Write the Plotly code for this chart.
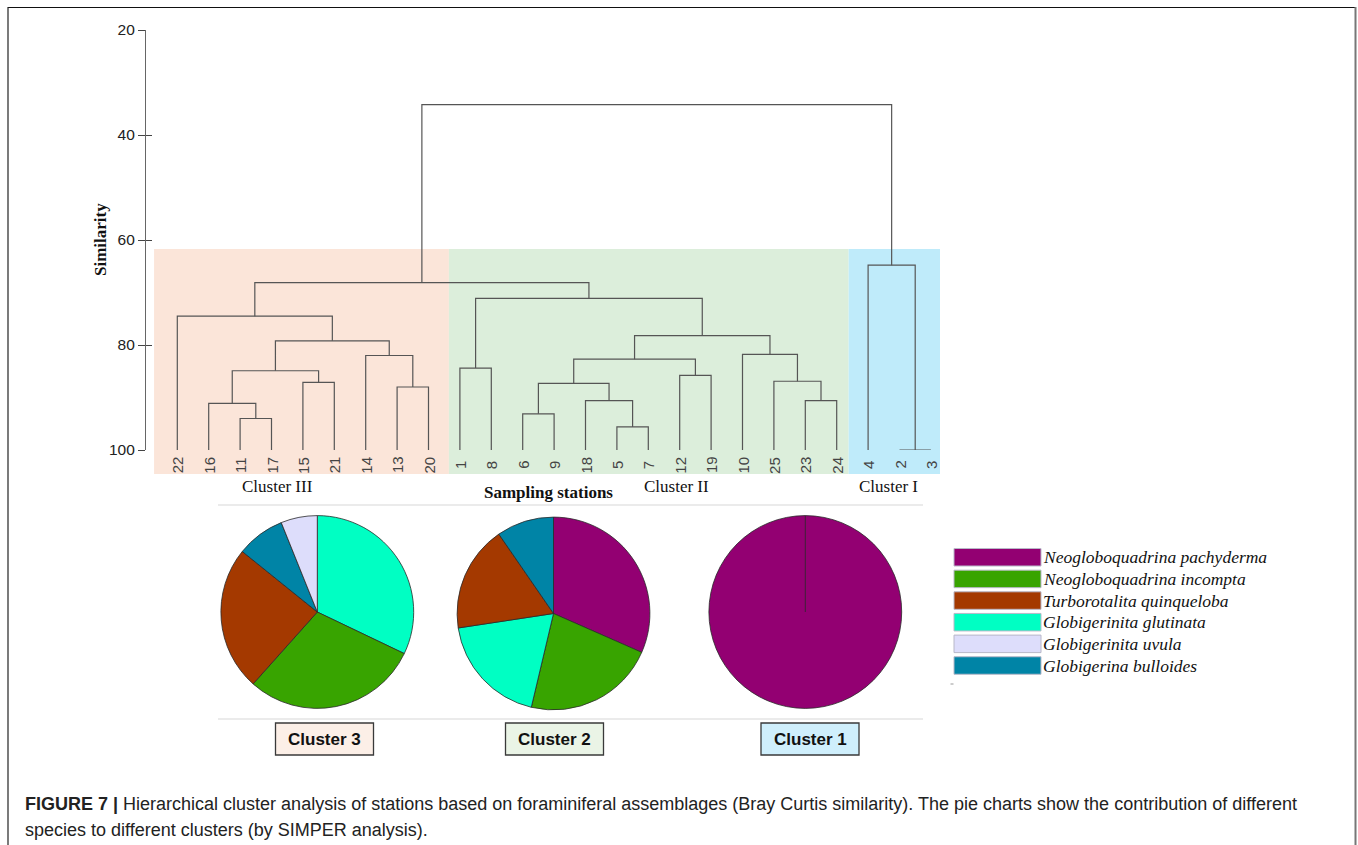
import plotly.graph_objects as go

W, H = 1358, 845

# ---------------- dendrogram data ----------------
leaf_order = ["22", "16", "11", "17", "15", "21", "14", "13", "20",
              "1", "8", "6", "9", "18", "5", "7", "12", "19", "10", "25", "23", "24",
              "4", "2", "3"]

# each merge k creates node "n{k+1}" joining the two members at that similarity
merge_left = ["11", "16", "15", "n2", "13", "14", "n4", "22",
              "1", "6", "5", "18", "n10", "12", "n13", "23", "25", "10", "n15", "n9",
              "n8", "2", "4", "n21"]
merge_right = ["17", "n1", "21", "n3", "20", "n5", "n6", "n7",
               "8", "9", "7", "n11", "n12", "19", "n14", "24", "n16", "n17", "n18", "n19",
               "n20", "3", "n22", "n23"]
merge_similarity = [94.0, 91.1, 87.1, 84.9, 88.0, 82.0, 79.2, 74.5,
                    84.4, 93.1, 95.6, 90.6, 87.3, 85.8, 82.7, 90.6, 86.9, 81.8, 78.2, 71.1,
                    68.1, 100.0, 64.8, 34.2]

similarity_ticks = [20, 40, 60, 80, 100]

# cluster bands in leaf-index units
band_edges = [(-0.74, 8.65), (8.65, 21.38), (21.38, 24.29)]
band_colors = ["#FBE5D9", "#DCEEDB", "#BFEBFA"]
band_names = ["Cluster III", "Cluster II", "Cluster I"]

# ---------------- SIMPER contributions ----------------
species = ["Neogloboquadrina pachyderma", "Neogloboquadrina incompta",
           "Turborotalita quinqueloba", "Globigerinita glutinata",
           "Globigerinita uvula", "Globigerina bulloides"]
species_colors = ["#930072", "#38A400", "#A43900", "#00FFC3", "#DDDDFB", "#0084A6"]
color_of = dict(zip(species, species_colors))

cluster3_species = ["Globigerinita glutinata", "Neogloboquadrina incompta",
                    "Turborotalita quinqueloba", "Globigerina bulloides", "Globigerinita uvula"]
cluster3_share = [32.1, 29.5, 24.2, 8.1, 6.1]

cluster2_species = ["Neogloboquadrina pachyderma", "Neogloboquadrina incompta",
                    "Globigerinita glutinata", "Turborotalita quinqueloba", "Globigerina bulloides"]
cluster2_share = [31.6, 22.1, 18.9, 17.8, 9.6]

cluster1_species = ["Neogloboquadrina pachyderma"]
cluster1_share = [100.0]

pie_titles = ["Cluster 3", "Cluster 2", "Cluster 1"]
pie_title_fills = ["#FCEFE7", "#EAF4E6", "#CFEFFC"]

caption_line1 = ("<b>FIGURE 7 |</b> Hierarchical cluster analysis of stations based on foraminiferal "
                 "assemblages (Bray Curtis similarity). The pie charts show the contribution of different")
caption_line2 = "species to different clusters (by SIMPER analysis)."

SANS = "Liberation Sans, Arial"
SERIF = "Liberation Serif, Times New Roman"


# ---------------- helpers ----------------
def px(x):
    return x / W


def py(y):
    return 1 - y / H


def label(x, y, text, font, xref="paper", **kw):
    d = dict(x=x, y=y, xref=xref, yref="paper", text=text, showarrow=False,
             xanchor="center", yanchor="middle", font=font)
    d.update(kw)
    return d


# layout of the dendrogram panel (pixels)
LEAF0, STEP = 177.3, 31.4
X_RANGE = [-1.0, 24.5]
Y_TOP, Y_BOT = 30, 450
x_dom = [px(LEAF0 + X_RANGE[0] * STEP), px(LEAF0 + X_RANGE[1] * STEP)]
y_dom = [py(Y_BOT), py(Y_TOP)]

# ---------------- build dendrogram segments ----------------
pos = {name: i for i, name in enumerate(leaf_order)}
height = {name: 100.0 for name in leaf_order}
seg_x, seg_y = [], []
for k, (a, b, s) in enumerate(zip(merge_left, merge_right, merge_similarity)):
    xa, xb = pos[a], pos[b]
    seg_x += [xa, xa, xb, xb, None]
    seg_y += [height[a], s, s, height[b], None]
    node = f"n{k + 1}"
    pos[node] = (xa + xb) / 2
    height[node] = s

fig = go.Figure()

fig.add_trace(go.Scatter(
    x=seg_x, y=seg_y, mode="lines",
    line=dict(color="#555555", width=1.2),
    cliponaxis=False, hoverinfo="skip", showlegend=False,
))
# carrier for the inner half of the crossing ticks
fig.add_trace(go.Scatter(x=[None], y=[None], yaxis="y2", showlegend=False, hoverinfo="skip"))

# ---------------- pies ----------------
pie_specs = [
    (cluster3_species, cluster3_share, 317.3, 612.0),
    (cluster2_species, cluster2_share, 553.5, 613.5),
    (cluster1_species, cluster1_share, 805.3, 612.0),
]
R = 96.4
for labels, vals, cx, cy in pie_specs:
    fig.add_trace(go.Pie(
        labels=labels, values=vals,
        marker=dict(colors=[color_of[s] for s in labels], line=dict(color="#2a2a2a", width=0.8)),
        sort=False, direction="clockwise", rotation=0,
        textinfo="none", hoverinfo="label+value", showlegend=False,
        domain=dict(x=[px(cx - R), px(cx + R)], y=[py(cy + R), py(cy - R)]),
    ))

shapes = []
# figure frame
shapes.append(dict(type="line", xref="paper", yref="paper", x0=px(8), x1=px(1355), y0=py(7.5), y1=py(7.5),
                   line=dict(color="#111", width=1.2)))
shapes.append(dict(type="line", xref="paper", yref="paper", x0=px(8), x1=px(8), y0=py(7), y1=0,
                   line=dict(color="#222", width=1.2)))
shapes.append(dict(type="line", xref="paper", yref="paper", x0=px(1355.5), x1=px(1355.5), y0=py(7), y1=0,
                   line=dict(color="#777", width=2)))

# cluster bands behind the dendrogram
for (e0, e1), col in zip(band_edges, band_colors):
    shapes.append(dict(type="rect", xref="x", yref="paper", x0=e0, x1=e1, y0=py(474), y1=py(249),
                       fillcolor=col, line=dict(width=0), layer="below"))

# separators around the pie row
for yy in (505, 719):
    shapes.append(dict(type="line", xref="paper", yref="paper", x0=px(218), x1=px(923), y0=py(yy), y1=py(yy),
                       line=dict(color="#EBEBEB", width=2)))

# radial edge of the single full slice
cx1, cy1 = pie_specs[2][2], pie_specs[2][3]
shapes.append(dict(type="line", xref="paper", yref="paper", x0=px(cx1), x1=px(cx1), y0=py(cy1), y1=py(cy1 - R),
                   line=dict(color="#2a2a2a", width=0.8)))

annotations = []

# cluster title boxes under the pies
box_centers = [324.5, 554.5, 810.0]
for bx, title, fill in zip(box_centers, pie_titles, pie_title_fills):
    shapes.append(dict(type="rect", xref="paper", yref="paper", x0=px(bx - 49), x1=px(bx + 49),
                       y0=py(755), y1=py(723), fillcolor=fill, line=dict(color="#3a3a3a", width=1.3)))
    annotations.append(label(px(bx), py(739.5), f"<b>{title}</b>", dict(family=SANS, size=17, color="#111")))

# species key
key_x0, key_x1 = 954, 1041
key_top, key_h, key_step = 548.5, 17.5, 21.65
for i, (name, col) in enumerate(zip(species, species_colors)):
    t = key_top + i * key_step
    shapes.append(dict(type="rect", xref="paper", yref="paper", x0=px(key_x0), x1=px(key_x1),
                       y0=py(t + key_h), y1=py(t), fillcolor=col, line=dict(color="#B8B8C8", width=1)))
    annotations.append(label(px(key_x1), py(t + key_h / 2), f"<i>{name}</i>",
                             dict(family=SERIF, size=17.5, color="#111"), xanchor="left"))
shapes.append(dict(type="line", xref="paper", yref="paper", x0=px(950.5), x1=px(953.5), y0=py(684), y1=py(684),
                   line=dict(color="#999", width=1)))

# station labels
for name in leaf_order:
    annotations.append(label(pos[name], py(465), name, dict(family=SANS, size=15, color="#444"),
                             xref="x", textangle=-90))

# cluster names under the bands
for txt, xx in zip(band_names, (277.5, 676, 888)):
    annotations.append(label(px(xx), py(486), txt, dict(family=SERIF, size=17, color="#111")))
annotations.append(label(px(548), py(492), "<b>Sampling stations</b>", dict(family=SERIF, size=17, color="#111")))
annotations.append(label(px(100), py(240), "<b>Similarity</b>", dict(family=SERIF, size=17, color="#111"),
                         textangle=-90))

# caption
annotations.append(label(px(23), py(804), caption_line1, dict(family=SANS, size=18, color="#222"), xanchor="left"))
annotations.append(label(px(23), py(830), caption_line2, dict(family=SANS, size=18, color="#222"), xanchor="left"))

fig.update_layout(
    width=W, height=H,
    margin=dict(l=0, r=0, t=0, b=0, pad=0, autoexpand=False),
    paper_bgcolor="white", plot_bgcolor="rgba(0,0,0,0)",
    xaxis=dict(domain=x_dom, range=X_RANGE, visible=False, fixedrange=True, automargin=False),
    yaxis=dict(domain=y_dom, range=[100, 20], tickvals=similarity_ticks,
               ticks="outside", ticklen=7, tickcolor="#444", tickwidth=1,
               showline=True, linecolor="#666", linewidth=1, automargin=False,
               showgrid=False, zeroline=False, fixedrange=True,
               tickfont=dict(family=SANS, size=15.5, color="#222")),
    yaxis2=dict(overlaying="y", range=[100, 20], tickvals=similarity_ticks, side="left",
                ticks="inside", ticklen=6, tickcolor="#444", tickwidth=1, automargin=False,
                showticklabels=False, showline=False, showgrid=False, zeroline=False, fixedrange=True),
    shapes=shapes,
    annotations=annotations,
    showlegend=False,
)

fig.write_html("out.html", config={"displayModeBar": False})
